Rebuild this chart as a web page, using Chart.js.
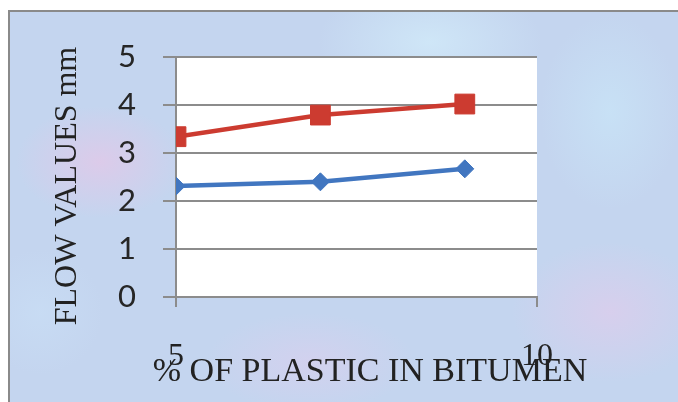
<!DOCTYPE html>
<html>
<head>
<meta charset="utf-8">
<script src="https://cdn.jsdelivr.net/npm/chart.js@4/dist/chart.umd.min.js"></script>
<style>
  html, body { margin: 0; padding: 0; background: #fff; }
  #wrap { position: relative; width: 678px; height: 402px; overflow: hidden; }
  #box {
    position: absolute; left: 8px; top: 10px; width: 700px; height: 420px;
    border: 2px solid #8a8a8a;
    background-color: #c4d5ef;
    background-image:
      radial-gradient(ellipse 120px 80px at 90px 150px, rgba(226,200,232,0.8), rgba(226,200,232,0) 70%),
      radial-gradient(ellipse 160px 90px at 420px 30px, rgba(208,232,248,0.9), rgba(208,232,248,0) 70%),
      radial-gradient(ellipse 140px 100px at 600px 300px, rgba(220,205,236,0.8), rgba(220,205,236,0) 70%),
      radial-gradient(ellipse 150px 70px at 300px 350px, rgba(214,208,238,0.8), rgba(214,208,238,0) 70%),
      radial-gradient(ellipse 100px 140px at 600px 100px, rgba(200,226,246,0.9), rgba(200,226,246,0) 70%),
      radial-gradient(ellipse 90px 90px at 30px 300px, rgba(200,220,244,0.9), rgba(200,220,244,0) 70%);
  }
  canvas { position: absolute; left: 0; top: 0; }
</style>
</head>
<body>
<div id="wrap">
  <div id="box"></div>
  <canvas id="flowChart" width="678" height="402"></canvas>
</div>
<script>
// % of plastic in bitumen
const plasticPct = [5, 7, 9];
// flow values (mm)
const flowBlue = [2.31, 2.40, 2.67];
const flowRed = [3.34, 3.79, 4.02];
const xTicks = [5, 10];
const yTicks = [0, 1, 2, 3, 4, 5];
const xTitle = "% OF PLASTIC IN BITUMEN";
const yTitle = "FLOW VALUES mm";

const serif = "'Liberation Serif', 'Times New Roman', serif";
const sans = "Lato, 'Open Sans', sans-serif";

const toPoints = (vals) => plasticPct.map((x, i) => ({ x: x, y: vals[i] }));

// fondo blanco del area de trazado
const plotBg = {
  id: "plotBg",
  beforeDraw(chart) {
    const { ctx, chartArea } = chart;
    ctx.save();
    ctx.fillStyle = "#ffffff";
    ctx.fillRect(chartArea.left, chartArea.top, chartArea.right - chartArea.left, chartArea.bottom - chartArea.top);
    ctx.restore();
  },
};

// titulos de ejes (el titulo de Chart.js se comprime al ancho del eje)
const axisTitles = {
  id: "axisTitles",
  afterDraw(chart) {
    const { ctx, chartArea } = chart;
    ctx.save();
    ctx.fillStyle = "#222";
    ctx.textAlign = "center";
    ctx.textBaseline = "middle";
    ctx.font = "34px " + serif;
    ctx.fillText(xTitle, chartArea.left + 194, chartArea.bottom + 75);
    ctx.translate(68, chartArea.top + 129);
    ctx.rotate(-Math.PI / 2);
    ctx.font = "32px " + serif;
    ctx.fillText(yTitle, 0, 0);
    ctx.restore();
  },
};

function draw() {
  const ctx = document.getElementById("flowChart").getContext("2d");
  new Chart(ctx, {
    type: "line",
    data: {
      datasets: [
        {
          label: "Series1",
          data: toPoints(flowBlue),
          borderColor: "#4176c0",
          backgroundColor: "#4176c0",
          borderWidth: 4.5,
          pointStyle: "rectRot",
          pointRadius: 9,
          pointBorderWidth: 1,
          tension: 0,
        },
        {
          label: "Series2",
          data: toPoints(flowRed),
          borderColor: "#cc3b30",
          backgroundColor: "#cc3b30",
          borderWidth: 4.5,
          pointStyle: "rect",
          pointRadius: 14,
          pointBorderWidth: 1,
          tension: 0,
        },
      ],
    },
    options: {
      responsive: false,
      animation: false,
      layout: { padding: { top: 57, right: 141, bottom: 0, left: 0 } },
      plugins: { legend: { display: false }, tooltip: { enabled: false } },
      scales: {
        x: {
          type: "linear",
          min: xTicks[0],
          max: xTicks[xTicks.length - 1],
          afterBuildTicks: (scale) => { scale.ticks = xTicks.map((v) => ({ value: v })); },
          afterFit: (scale) => { scale.height = 105; },
          grid: { drawOnChartArea: false, drawTicks: true, tickLength: 10, color: "#8c8c8c", lineWidth: 2 },
          border: { display: true, color: "#8c8c8c", width: 2 },
          ticks: {
            padding: 30,
            color: "#222",
            font: { family: serif, size: 32 },
          },
        },
        y: {
          min: yTicks[0],
          max: yTicks[yTicks.length - 1],
          afterBuildTicks: (scale) => { scale.ticks = yTicks.map((v) => ({ value: v })); },
          afterFit: (scale) => { scale.width = 176; },
          grid: { drawTicks: true, tickLength: 13, color: "#8c8c8c", lineWidth: 2 },
          border: { display: true, color: "#8c8c8c", width: 2 },
          ticks: {
            padding: 27,
            color: "#262626",
            font: { family: sans, size: 31 },
          },
        },
      },
    },
    plugins: [plotBg, axisTitles],
  });
}

Promise.all([
  document.fonts.load("31px Lato"),
  document.fonts.load("32px 'Liberation Serif'"),
]).then(draw, draw);
</script>
</body>
</html>
